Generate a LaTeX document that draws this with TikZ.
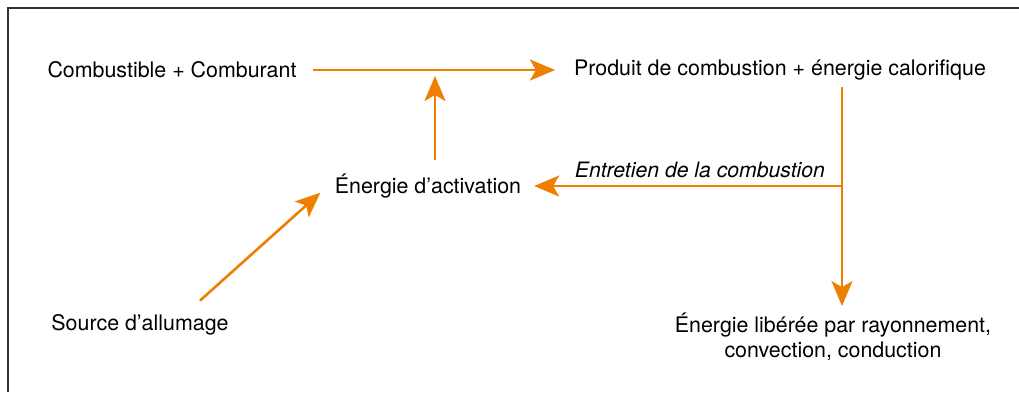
\documentclass[tikz,border=0pt]{standalone}
\usepackage{fontspec}
\setmainfont{TeX Gyre Heros}
\usetikzlibrary{arrows.meta,calc}
\definecolor{feu}{RGB}{238,127,0}
\tikzset{
  fleche/.style={draw=feu, line width=1.3pt, -{Stealth[length=12.5pt,width=10.5pt,inset=3pt]}},
  etiq/.style={font=\fontsize{10.7pt}{12.5pt}\selectfont, align=center}
}

\begin{document}
\begin{tikzpicture}[x=0.5pt,y=-0.5pt]
\useasboundingbox (0,0) rectangle (1019,392);
\draw[black!80, line width=1pt] (8,392) -- (8,8) -- (1019,8);
\node[etiq] (Comb) at (172,70) {Combustible + Comburant};
\node[etiq] (Prod) at (780,70) {Produit de combustion + énergie calorifique};
\node[etiq] (Act) at (428,186) {Énergie d’activation};
\node[etiq] (Src) at (140,325) {Source d’allumage};
\node[etiq] (Lib) at (833,337) {Énergie libérée par rayonnement,\\convection, conduction};
\coordinate (junc) at (842,186);
\coordinate (meet) at (435,76);
\node[etiq, font=\fontsize{10.6pt}{12.5pt}\selectfont\itshape, anchor=base east] (Entr) at ($(junc)+(-10,-9)$) {Entretien de la combustion};
\draw[fleche, shorten <=4.5pt, shorten >=6pt] (Comb) -- (Prod);
\draw[fleche, shorten <=3.5pt] (Act.north -| meet) -- (meet);
\draw[fleche] (Prod.south -| junc) -- (Lib.north -| junc);
\draw[fleche, shorten >=3pt] (junc) -- (Act.east);
\draw[fleche, shorten >=5pt] ($(Src.north)+(60,-7)$) -- (Act.west);
\end{tikzpicture}
\end{document}
